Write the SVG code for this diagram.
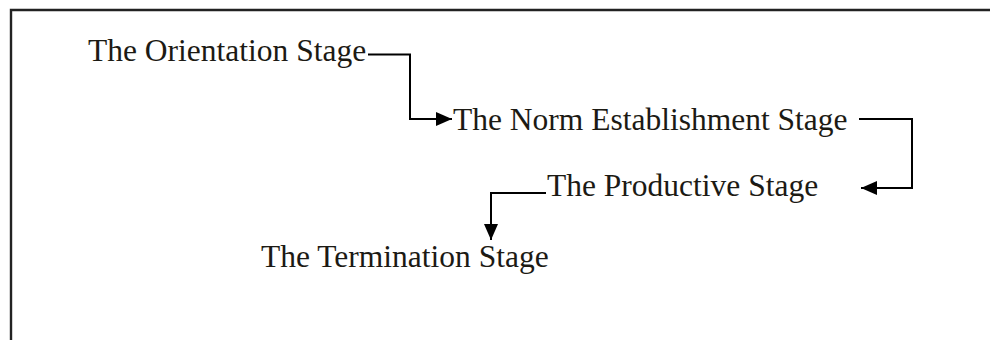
<svg xmlns="http://www.w3.org/2000/svg" width="990" height="340" viewBox="0 0 990 340">
<style>
.t{font-family:"Liberation Serif","Times New Roman",serif;font-size:31.5px;fill:#1c1a14}
.c{fill:none;stroke:#000;stroke-width:2}
</style>
<defs>
<marker id="ah" markerWidth="16" markerHeight="14" refX="16" refY="7" orient="auto" markerUnits="userSpaceOnUse">
<path d="M0,0 L16,7 L0,14 Z" fill="#000"/>
</marker>
</defs>
<rect width="990" height="340" fill="#fff"/>
<path d="M990,10 H11 V340" fill="none" stroke="#222" stroke-width="2.4"/>
<g id="orientation"><text class="t" x="88" y="61">The Orientation Stage</text></g>
<g id="norm"><text class="t" x="453" y="130">The Norm Establishment Stage</text></g>
<g id="productive"><text class="t" x="547" y="196">The Productive Stage</text></g>
<g id="termination"><text class="t" x="261" y="267">The Termination Stage</text></g>
<g id="connectors">
<path class="c" d="M368,54.5 H410 V119 H452" marker-end="url(#ah)"/>
<path class="c" d="M859,119 H912 V188 H861" marker-end="url(#ah)"/>
<path class="c" d="M546,193 H491 V240" marker-end="url(#ah)"/>
</g>
</svg>
